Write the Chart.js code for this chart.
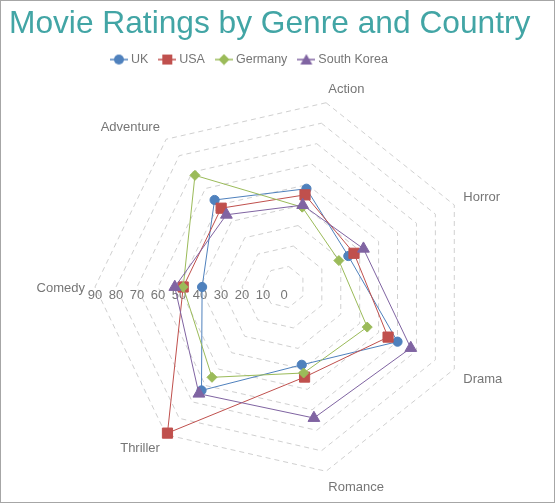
<!DOCTYPE html>
<html>
<head>
<meta charset="utf-8">
<script src="https://cdn.jsdelivr.net/npm/chart.js@4.4.0/dist/chart.umd.min.js"></script>
<style>
  html, body { margin: 0; padding: 0; background: #fff; }
  canvas { display: block; }
</style>
</head>
<body>
<canvas id="ratingChart" width="555" height="503"></canvas>
<script>
// Data
const genres = ['Action', 'Horror', 'Drama', 'Romance', 'Thriller', 'Comedy', 'Adventure'];
const ukRatings = [48, 34, 60, 38, 63, 39, 53];
const usaRatings = [45, 37, 55, 44, 89, 48, 48];
const germanyRatings = [39, 29, 44, 42, 55, 48, 68];
const koreaRatings = [40, 42, 67, 64, 65, 52, 44];
const tickValues = [0, 10, 20, 30, 40, 50, 60, 70, 80, 90];

const GRAY = '#767676';
const FONT = "'Liberation Sans', Arial, sans-serif";
const CENTER_X = 284, CENTER_Y = 287, RADIUS = 189;
const LEGEND_RIGHT = 492; // legend row sits left of the canvas middle

// little "line + marker" pictures for the legend
function makeIcon(color, style) {
    const c = document.createElement('canvas');
    c.width = 18; c.height = 12;
    const g = c.getContext('2d');
    g.strokeStyle = color;
    g.globalAlpha = 0.75;
    g.lineWidth = 2;
    g.beginPath(); g.moveTo(0, 6); g.lineTo(18, 6); g.stroke();
    g.globalAlpha = 1;
    g.fillStyle = color;
    g.beginPath();
    if (style === 'circle') g.arc(9, 6, 5, 0, Math.PI * 2);
    else if (style === 'rect') g.rect(4, 1, 10, 10);
    else if (style === 'rectRot') { g.moveTo(9, 0.5); g.lineTo(14.5, 6); g.lineTo(9, 11.5); g.lineTo(3.5, 6); g.closePath(); }
    else { g.moveTo(9, 0.5); g.lineTo(15, 11); g.lineTo(3, 11); g.closePath(); }
    g.fill();
    return c;
}

const seriesColors = ['#4f81bd', '#c0504d', '#9bbb59', '#8064a2'];
const seriesStyles = ['circle', 'rect', 'rectRot', 'triangle'];
const legendIcons = seriesColors.map((c, i) => makeIcon(c, seriesStyles[i]));

// horizontal value labels + genre labels drawn from the scale
const radarText = {
    id: 'radarText',
    afterLayout(chart) {
        chart.legend.right = LEGEND_RIGHT;
    },
    beforeDraw(chart) {
        const ctx = chart.ctx;
        ctx.save();
        ctx.fillStyle = '#fff';
        ctx.fillRect(0, 0, chart.width, chart.height);
        ctx.strokeStyle = '#a6a6a6';
        ctx.lineWidth = 1;
        ctx.strokeRect(0.5, 0.5, chart.width - 1, chart.height - 1);
        ctx.restore();
    },
    beforeDatasetsDraw(chart) {
        const scale = chart.scales.r;
        const ctx = chart.ctx;
        ctx.save();
        ctx.font = '13px ' + FONT;
        ctx.fillStyle = GRAY;
        ctx.textAlign = 'center';
        ctx.textBaseline = 'alphabetic';
        scale.ticks.forEach(t => {
            const d = scale.getDistanceFromCenterForValue(t.value);
            ctx.fillText(String(t.value), scale.xCenter - d, scale.yCenter + 11.5);
        });
        genres.forEach((g, i) => {
            const p = scale.getPointPosition(i, scale.drawingArea + 10);
            const dx = p.x - scale.xCenter, dy = p.y - scale.yCenter;
            ctx.textAlign = dx > 1 ? 'left' : (dx < -1 ? 'right' : 'center');
            let y = p.y;
            if (dy > 1) y += 9.5;
            else if (dy >= -1) y += 4.5;
            ctx.fillText(g, p.x, y);
        });
        ctx.restore();
    }
};

const ctx = document.getElementById('ratingChart').getContext('2d');
const ratingChart = new Chart(ctx, {
    type: 'radar',
    data: {
        labels: genres,
        datasets: [
            { label: 'UK', data: ukRatings, order: 4 },
            { label: 'USA', data: usaRatings, order: 3 },
            { label: 'Germany', data: germanyRatings, order: 2 },
            { label: 'South Korea', data: koreaRatings, order: 1 }
        ].map((ds, i) => Object.assign(ds, {
            borderColor: seriesColors[i],
            backgroundColor: seriesColors[i],
            pointBackgroundColor: seriesColors[i],
            pointBorderColor: seriesColors[i],
            pointStyle: seriesStyles[i],
            pointRadius: [4.6, 7.2, 5, 6.8][i],
            pointBorderWidth: 1,
            borderWidth: 1,
            fill: false,
            tension: 0
        }))
    },
    options: {
        responsive: false,
        animation: false,
        layout: { padding: { left: 9, right: 0, top: 0, bottom: 0 } },
        plugins: {
            title: {
                display: true,
                text: 'Movie Ratings by Genre and Country',
                color: '#42a5a5',
                align: 'start',
                font: { family: FONT, size: 31.7, weight: 'normal' },
                padding: { top: 5, bottom: -3 }
            },
            legend: {
                labels: {
                    color: GRAY,
                    font: { family: FONT, size: 12.5 },
                    usePointStyle: true,
                    pointStyleWidth: 11.5,
                    padding: 13.25,
                    sort: (a, b) => a.datasetIndex - b.datasetIndex,
                    generateLabels(chart) {
                        const items = Chart.defaults.plugins.legend.labels.generateLabels(chart);
                        items.forEach(it => { it.pointStyle = legendIcons[it.datasetIndex]; });
                        return items;
                    }
                }
            },
            tooltip: { enabled: false }
        },
        scales: {
            r: {
                min: 0,
                max: 90,
                startAngle: 90 / 7,
                angleLines: { display: false },
                grid: { color: '#d0d0d0', lineWidth: 1 },
                border: { dash: [5, 4] },
                ticks: { display: false, stepSize: 10 },
                pointLabels: { display: false },
                afterBuildTicks: scale => { scale.ticks = tickValues.map(v => ({ value: v })); },
                afterFit: scale => {
                    scale.xCenter = CENTER_X;
                    scale.yCenter = CENTER_Y;
                    scale.drawingArea = RADIUS;
                }
            }
        }
    },
    plugins: [radarText]
});
</script>
</body>
</html>
